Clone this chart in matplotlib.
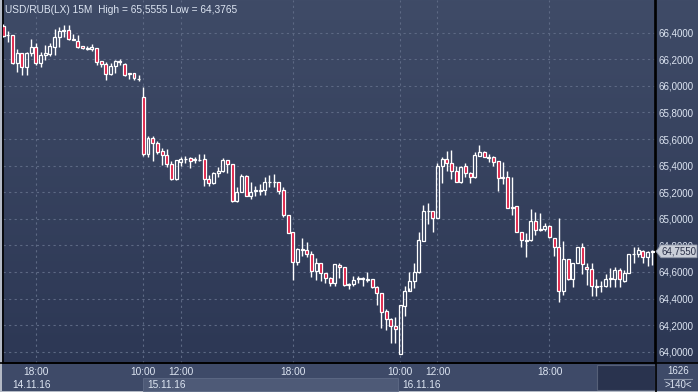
import matplotlib
matplotlib.use("Agg")
import matplotlib.pyplot as plt
import matplotlib.transforms as mtransforms
from matplotlib.patches import Rectangle, Polygon
import numpy as np

plt.rcParams['font.family'] = ['Liberation Sans', 'DejaVu Sans']

# 15-minute candles, 14.11.16 16:15 -> 16.11.16 23:30
opens = [
    66.450, 66.380, 66.383, 66.172, 66.247, 66.142, 66.247, 66.292, 66.172, 66.232,
    66.240, 66.292, 66.368, 66.413, 66.420, 66.353, 66.337, 66.300, 66.285, 66.277,
    66.285, 66.187, 66.165, 66.089, 66.149, 66.187, 66.165, 66.097, 66.097, 66.055,
    65.916, 65.487, 65.608, 65.570, 65.510, 65.480, 65.412, 65.299, 65.427, 65.450,
    65.457, 65.448, 65.445, 65.450, 65.299, 65.269, 65.344, 65.359, 65.442, 65.412,
    65.134, 65.201, 65.322, 65.171, 65.213, 65.216, 65.216, 65.277, 65.279, 65.277,
    65.216, 65.028, 64.900, 64.675, 64.773, 64.765, 64.735, 64.607, 64.667, 64.592,
    64.554, 64.517, 64.652, 64.637, 64.505, 64.509, 64.550, 64.554, 64.539, 64.547,
    64.487, 64.442, 64.306, 64.246, 64.193,
    63.983, 64.344, 64.457, 64.532, 64.599, 64.833, 65.058, 65.058, 65.006, 65.397,
    65.450, 65.420, 65.359, 65.277, 65.397, 65.344, 65.314, 65.472, 65.502, 65.465,
    65.465, 65.435, 65.307, 65.314, 65.081, 65.096, 64.900, 64.840, 64.840, 64.983,
    64.915, 64.922, 64.946, 64.855, 64.788, 64.457, 64.697, 64.547, 64.667, 64.788,
    64.637, 64.622, 64.494, 64.492, 64.494, 64.547, 64.547, 64.615, 64.532, 64.592,
    64.735, 64.735, 64.758, 64.712, 64.750,
]
closes = [
    66.375, 66.385, 66.172, 66.247, 66.142, 66.247, 66.292, 66.172, 66.232, 66.247,
    66.300, 66.368, 66.413, 66.420, 66.353, 66.345, 66.292, 66.285, 66.280, 66.292,
    66.180, 66.165, 66.089, 66.149, 66.187, 66.185, 66.082, 66.095, 66.059, 66.052,
    65.487, 65.608, 65.570, 65.502, 65.480, 65.412, 65.299, 65.442, 65.450, 65.452,
    65.435, 65.450, 65.442, 65.299, 65.269, 65.344, 65.359, 65.442, 65.412, 65.134,
    65.201, 65.322, 65.171, 65.201, 65.216, 65.214, 65.277, 65.279, 65.276, 65.209,
    65.028, 64.893, 64.675, 64.773, 64.765, 64.735, 64.607, 64.667, 64.592, 64.554,
    64.517, 64.660, 64.637, 64.502, 64.509, 64.539, 64.554, 64.552, 64.547, 64.487,
    64.442, 64.299, 64.246, 64.193, 64.171,
    64.351, 64.457, 64.532, 64.599, 64.840, 65.058, 65.060, 65.006, 65.397, 65.450,
    65.420, 65.359, 65.277, 65.390, 65.344, 65.314, 65.480, 65.502, 65.465, 65.463,
    65.427, 65.307, 65.314, 65.081, 65.088, 64.900, 64.840, 64.838, 64.983, 64.915,
    64.922, 64.946, 64.863, 64.788, 64.457, 64.697, 64.547, 64.667, 64.788, 64.660,
    64.622, 64.494, 64.492, 64.495, 64.547, 64.554, 64.615, 64.547, 64.592, 64.735,
    64.738, 64.765, 64.712, 64.750, 64.755,
]
highs = [
    66.465, 66.413, 66.385, 66.277, 66.250, 66.255, 66.353, 66.322, 66.255, 66.307,
    66.322, 66.428, 66.443, 66.458, 66.458, 66.390, 66.383, 66.302, 66.300, 66.315,
    66.287, 66.190, 66.180, 66.172, 66.195, 66.202, 66.172, 66.100, 66.100, 66.082,
    65.991, 65.623, 65.623, 65.585, 65.532, 65.525, 65.435, 65.445, 65.465, 65.472,
    65.465, 65.465, 65.487, 65.487, 65.329, 65.352, 65.390, 65.457, 65.445, 65.415,
    65.239, 65.337, 65.329, 65.277, 65.247, 65.262, 65.314, 65.329, 65.337, 65.280,
    65.239, 65.030, 64.903, 64.780, 64.855, 64.825, 64.758, 64.705, 64.670, 64.595,
    64.562, 64.662, 64.667, 64.640, 64.517, 64.569, 64.569, 64.562, 64.599, 64.550,
    64.494, 64.445, 64.321, 64.250, 64.261,
    64.355, 64.494, 64.599, 64.667, 64.900, 65.104, 65.119, 65.062, 65.420, 65.465,
    65.510, 65.517, 65.397, 65.397, 65.420, 65.352, 65.502, 65.5555, 65.510, 65.487,
    65.472, 65.437, 65.427, 65.359, 65.314, 65.098, 64.903, 64.893, 65.073, 65.051,
    65.040, 64.968, 64.950, 64.858, 65.006, 64.833, 64.700, 64.670, 64.790, 64.818,
    64.667, 64.667, 64.547, 64.532, 64.584, 64.630, 64.637, 64.630, 64.615, 64.738,
    64.788, 64.788, 64.765, 64.758, 64.765,
]
lows = [
    66.368, 66.330, 66.165, 66.104, 66.082, 66.082, 66.225, 66.157, 66.142, 66.195,
    66.225, 66.232, 66.292, 66.368, 66.345, 66.342, 66.285, 66.277, 66.270, 66.262,
    66.157, 66.142, 66.044, 66.085, 66.097, 66.157, 66.074, 66.052, 66.044, 66.037,
    65.472, 65.465, 65.435, 65.487, 65.405, 65.390, 65.292, 65.295, 65.397, 65.420,
    65.382, 65.420, 65.435, 65.247, 65.247, 65.265, 65.314, 65.352, 65.344, 65.126,
    65.130, 65.198, 65.168, 65.149, 65.171, 65.179, 65.179, 65.239, 65.239, 65.186,
    65.013, 64.890, 64.539, 64.652, 64.720, 64.712, 64.562, 64.539, 64.532, 64.517,
    64.494, 64.494, 64.554, 64.494, 64.472, 64.494, 64.517, 64.494, 64.524, 64.479,
    64.351, 64.178, 64.163, 64.065, 64.065,
    63.980, 64.268, 64.479, 64.479, 64.595, 64.830, 64.961, 64.900, 65.003, 65.269,
    65.359, 65.299, 65.274, 65.269, 65.314, 65.269, 65.310, 65.470, 65.462, 65.427,
    65.397, 65.209, 65.262, 65.078, 65.028, 64.898, 64.788, 64.712, 64.835, 64.878,
    64.910, 64.908, 64.855, 64.720, 64.3765, 64.427, 64.539, 64.487, 64.665, 64.584,
    64.502, 64.419, 64.419, 64.449, 64.487, 64.487, 64.487, 64.487, 64.524, 64.590,
    64.667, 64.712, 64.667, 64.645, 64.652,
]

price_ticks = [64.0, 64.2, 64.4, 64.6, 64.8, 65.0, 65.2, 65.4, 65.6, 65.8, 66.0, 66.2, 66.4]
time_pos = [7, 30, 38, 62, 85, 93, 117]
time_labels = ["18:00", "10:00", "12:00", "18:00", "10:00", "12:00", "18:00"]
day_pos = [1.9, 30.8, 85.4]
day_labels = ["14.11.16", "15.11.16", "16.11.16"]
last_price = 64.755


def fmt(v):
    return f"{v:.4f}".replace(".", ",")


def main():
    W, H = 698, 392
    fig = plt.figure(figsize=(W / 100, H / 100), dpi=100)
    txt = "#dde5f2"

    # background gradient over the whole figure
    bg = fig.add_axes([0, 0, 1, 1])
    top = np.array([63, 75, 103]) / 255
    bot = np.array([43, 54, 83]) / 255
    t = np.linspace(0, 1, 256)[:, None]
    grad = top[None, :] * (1 - t) + bot[None, :] * t
    bg.imshow(grad[:, None, :], aspect="auto", extent=[0, 1, 0, 1])
    bg.set_xlim(0, 1)
    bg.set_ylim(0, 1)
    bg.axis("off")

    # bottom time panel
    fb = 29 / H
    bg.add_patch(Rectangle((0, 0), 1, fb, facecolor="#3e4a68", edgecolor="none", zorder=2))
    bg.add_patch(Rectangle((597 / W, 2 / H), 58 / W, 25 / H, facecolor="#29334e",
                           edgecolor="#566078", lw=0.8, zorder=3))
    bg.add_patch(Rectangle((0, 0), 1, 1.5 / H, facecolor="#b4bac6", edgecolor="none", zorder=4))
    bg.add_patch(Rectangle((0, 0), 1.5 / W, 1, facecolor="#b4bac6", edgecolor="none", zorder=4))
    bg.plot([0, 1], [fb, fb], color="black", lw=1.2, zorder=5)
    bg.plot([655.5 / W, 655.5 / W], [0, 1], color="black", lw=1.2, zorder=5)

    ax = fig.add_axes([3 / W, fb, 652 / W, 1 - fb])
    ax.patch.set_alpha(0)
    ax.set_xlim(-0.06, 139.6)
    ax.set_ylim(63.915, 66.646)

    for v in price_ticks:
        ax.axhline(v, color="#5d6984", lw=0.8, ls=(0, (2, 3)), zorder=1)
    for p in time_pos:
        ax.axvline(p, color="#5d6984", lw=0.8, ls=(0, (2, 3)), zorder=1)

    x = np.arange(len(opens))
    o = np.array(opens)
    c = np.array(closes)
    hi = np.array(highs)
    lo = np.array(lows)
    btop = np.maximum(o, c)
    bbot = np.minimum(o, c)
    bbot = np.where(btop - bbot < 0.004, btop - 0.004, bbot)
    ax.vlines(x, btop, hi, color="white", lw=1, zorder=3)
    ax.vlines(x, lo, bbot, color="white", lw=1, zorder=3)
    up = c >= o
    ax.bar(x[up], (btop - bbot)[up], bottom=bbot[up], width=0.64,
           facecolor="none", edgecolor="white", lw=0.9, zorder=4)
    ax.bar(x[~up], (btop - bbot)[~up], bottom=bbot[~up], width=0.64,
           facecolor="#dc143c", edgecolor="white", lw=0.9, zorder=4)

    ax.set_yticks(price_ticks)
    ax.set_yticklabels([fmt(v) for v in price_ticks])
    ax.yaxis.tick_right()
    ax.tick_params(axis="y", length=0, pad=2.5, labelsize=7.0, labelcolor=txt)
    ax.set_xticks([])
    for s in ["left", "right", "bottom"]:
        ax.spines[s].set_color("black")
        ax.spines[s].set_linewidth(1.2)
    ax.spines["top"].set_visible(False)

    ax.text(0.003, 0.985, "USD/RUB(LX) 15M  High = 65,5555 Low = 64,3765",
            transform=ax.transAxes, ha="left", va="top", fontsize=7.3, color=txt)

    # date bands and time labels
    tr = mtransforms.blended_transform_factory(ax.transData, fig.transFigure)
    ax.add_patch(Rectangle((29.85, 1.5 / H), 84.55 - 29.85, 13 / H, transform=tr,
                           facecolor="#4e5a77", edgecolor="#5e6a86", lw=0.6,
                           clip_on=False, zorder=2))
    for p, lab in zip(time_pos, time_labels):
        ax.text(p, 1 - 372 / H, lab, transform=tr, ha="center", va="center",
                fontsize=7.3, color=txt, clip_on=False)
    for p, lab in zip(day_pos, day_labels):
        ax.text(p, 1 - 385 / H, lab, transform=tr, ha="left", va="center",
                fontsize=7.3, color=txt, clip_on=False, zorder=5)

    # bottom right counter
    fig.text(678 / W, 1 - 371 / H, "1626", ha="center", va="center", fontsize=7.0, color=txt)
    fig.lines.append(plt.Line2D([664 / W, 692 / W], [1 - 378.5 / H] * 2, color="#8a94a8",
                                lw=0.8, transform=fig.transFigure))
    fig.text(678 / W, 1 - 385.5 / H, ">140<", ha="center", va="center", fontsize=7.0, color=txt)

    # last price marker
    ytr = mtransforms.blended_transform_factory(fig.transFigure, ax.transData)
    hh = 0.048
    marker = Polygon([(656 / W, last_price), (661 / W, last_price + hh), (697 / W, last_price + hh),
                      (697 / W, last_price - hh), (661 / W, last_price - hh)],
                     closed=True, transform=ytr, facecolor="#c9ced8", edgecolor="#8d95a6",
                     lw=0.6, clip_on=False, zorder=6)
    ax.add_patch(marker)
    ax.text(679 / W, last_price, fmt(last_price), transform=ytr, ha="center", va="center",
            fontsize=7.0, color="#2a3048", clip_on=False, zorder=7)

    fig.savefig("out.png", dpi=100)


if __name__ == "__main__":
    main()
